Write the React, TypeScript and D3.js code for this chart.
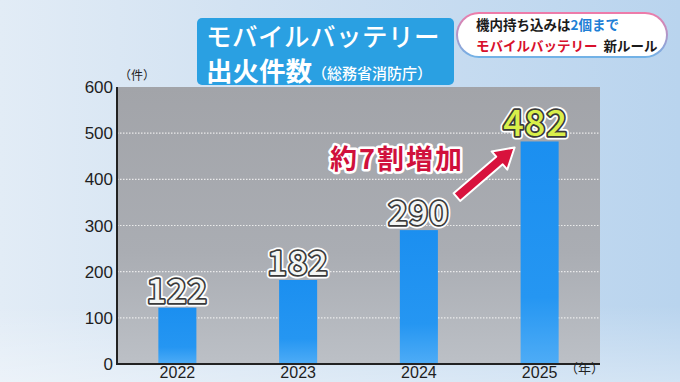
import React from "react";
import * as d3 from "d3";

const years = ["2022", "2023", "2024", "2025"];
const counts = [122, 182, 290, 482];
const yTicks = [0, 100, 200, 300, 400, 500, 600];
const gridTicks = [100, 200, 300, 400, 500];

const W = 680;
const H = 382;
const plot = { left: 117, right: 600, top: 87, bottom: 364 };

export default function App() {
  const x = d3.scaleBand<string>().domain(years).range([plot.left, plot.right]).padding(0);
  const y = d3.scaleLinear().domain([0, 600]).range([plot.bottom, plot.top]);
  const barW = x.bandwidth() * 0.315;
  const cx = (yr: string) => (x(yr) as number) + x.bandwidth() / 2;

  // arrow annotation geometry (relative to 2024/2025 bars)
  const ax0 = cx("2024") + 38, ay0 = y(290) - 33;
  const ax1 = cx("2025") - 25, ay1 = y(482) + 6;
  const ang = Math.atan2(ay1 - ay0, ax1 - ax0);
  const len = Math.hypot(ax1 - ax0, ay1 - ay0);
  const shaft = 5, headW = 12, headL = 20;
  const pts: [number, number][] = [
    [0, -shaft], [len - headL, -shaft], [len - headL, -headW], [len, 0],
    [len - headL, headW], [len - headL, shaft], [0, shaft],
  ];
  const arrowPts = pts
    .map(([u, v]) => [ax0 + u * Math.cos(ang) - v * Math.sin(ang), ay0 + u * Math.sin(ang) + v * Math.cos(ang)])
    .map((p) => p.join(","))
    .join(" ");

  const jp = "'Noto Sans CJK JP', 'Noto Sans', sans-serif";
  const num = "'Noto Sans CJK JP', 'Noto Sans', sans-serif";
  const tickFont = "'Liberation Sans', Arial, sans-serif";

  return (
    <svg width={W} height={H} style={{ display: "block", position: "absolute", left: 0, top: 0 }}>
      <defs>
        <linearGradient id="bg" x1="0" y1="0" x2="1" y2="0">
          <stop offset="0" stopColor="#e2ecf6" />
          <stop offset="0.35" stopColor="#d2e2f2" />
          <stop offset="1" stopColor="#b9d4ee" />
        </linearGradient>
        <linearGradient id="bgv" x1="0" y1="0" x2="0" y2="1">
          <stop offset="0" stopColor="#ffffff" stopOpacity="0" />
          <stop offset="0.8" stopColor="#ffffff" stopOpacity="0" />
          <stop offset="1" stopColor="#ffffff" stopOpacity="0.35" />
        </linearGradient>
        <linearGradient id="plotbg" x1="0" y1="0" x2="0" y2="1">
          <stop offset="0" stopColor="#a2a4a9" />
          <stop offset="0.6" stopColor="#aaadb3" />
          <stop offset="1" stopColor="#bcc0c6" />
        </linearGradient>
        <linearGradient id="bar" x1="0" y1="0" x2="0" y2="1">
          <stop offset="0" stopColor="#1b8ff0" />
          <stop offset="0.7" stopColor="#2596f2" />
          <stop offset="1" stopColor="#4eacf6" />
        </linearGradient>
        <linearGradient id="pillBorder" x1="0" y1="0" x2="0" y2="1">
          <stop offset="0" stopColor="#f07aa8" />
          <stop offset="1" stopColor="#6fb3e8" />
        </linearGradient>
      </defs>

      <rect x={0} y={0} width={W} height={H} fill="url(#bg)" />
      <rect x={0} y={0} width={W} height={H} fill="url(#bgv)" />

      {/* plot area */}
      <rect x={plot.left} y={plot.top} width={plot.right - plot.left} height={plot.bottom - plot.top} fill="url(#plotbg)" />

      {/* grid */}
      {gridTicks.map((t) => (
        <line key={t} x1={plot.left} x2={plot.right} y1={y(t)} y2={y(t)} stroke="#f2f2f2" strokeWidth={1.2} strokeDasharray="1.5 1.5" opacity={0.9} />
      ))}

      {/* bars */}
      {years.map((yr, i) => (
        <rect key={yr} x={cx(yr) - barW / 2} y={y(counts[i])} width={barW} height={plot.bottom - y(counts[i])} fill="url(#bar)" />
      ))}

      {/* axes */}
      <line x1={plot.left} x2={plot.left} y1={plot.top} y2={plot.bottom} stroke="#222" strokeWidth={2} />
      <line x1={plot.left - 1} x2={plot.right} y1={plot.bottom} y2={plot.bottom} stroke="#222" strokeWidth={2} />

      {/* y ticks */}
      {yTicks.map((t) => (
        <text key={t} x={plot.left - 4} y={y(t) + 6} textAnchor="end" fontFamily={tickFont} fontSize={17} fill="#1e1e1e">
          {t}
        </text>
      ))}
      <text x={119} y={80} fontFamily={jp} fontSize={12} fill="#222">（件）</text>

      {/* x labels */}
      {years.map((yr) => (
        <text key={yr} x={cx(yr)} y={378} textAnchor="middle" fontFamily={tickFont} fontSize={16} fill="#1e1e1e">
          {yr}
        </text>
      ))}
      <text x={565} y={373} fontFamily={jp} fontSize={13} fill="#222">（年）</text>

      {/* value labels */}
      {years.map((yr, i) => {
        const last = i === years.length - 1;
        const ty = y(counts[i]) - 5;
        const fs = last ? 36 : 34;
        const common = {
          x: cx(yr) - (last ? 4 : 0),
          y: ty,
          textAnchor: "middle" as const,
          fontFamily: num,
          fontWeight: 500,
          fontSize: fs,
          letterSpacing: 1,
        };
        return (
          <g key={yr}>
            <text {...common} fill="none" stroke="#ffffff" strokeWidth={7} strokeLinejoin="round">{counts[i]}</text>
            <text {...common} fill="none" stroke="#3a3a3a" strokeWidth={3.5} strokeLinejoin="round">{counts[i]}</text>
            <text {...common} fill={last ? "#d9ef4a" : "#f4f6f4"}>{counts[i]}</text>
          </g>
        );
      })}

      {/* annotation */}
      <polygon points={arrowPts} fill="#d8123d" stroke="#ffffff" strokeWidth={2} strokeLinejoin="round" />
      {[0, 1].map((k) => (
        <text key={k} x={397} y={169} textAnchor="middle" fontFamily={jp} fontWeight={700} fontSize={27} letterSpacing={2}
          fill={k ? "#d0103c" : "none"} stroke={k ? "none" : "#ffffff"} strokeWidth={k ? 0 : 5} strokeLinejoin="round">
          約7割増加
        </text>
      ))}

      {/* title box */}
      <rect x={197} y={18} width={257} height={67} rx={5} fill="#2aa0e2" />
      <text x={206} y={46} fontFamily={jp} fontWeight={500} fontSize={25.5} fill="#ffffff" letterSpacing={0.5}>
        モバイルバッテリー
      </text>
      <text x={206} y={81} fontFamily={jp} fontWeight={700} fontSize={26.5} fill="#ffffff">
        出火件数<tspan fontSize={15} fontWeight={500} dy={-2}>（総務省消防庁）</tspan>
      </text>

      {/* top-right pill */}
      <rect x={456} y={12} width={212} height={46} rx={23} fill="url(#pillBorder)" />
      <rect x={458} y={14} width={208} height={42} rx={21} fill="#ffffff" />
      <text x={476} y={30} fontFamily={jp} fontWeight={700} fontSize={13.5} fill="#1a1a1a">
        機内持ち込みは<tspan fill="#1f7fd6">2個まで</tspan>
      </text>
      <text x={476} y={51} fontFamily={jp} fontWeight={700} fontSize={13.5} fill="#d8102c">
        モバイルバッテリー<tspan fill="#1a1a1a" dx={6}>新ルール</tspan>
      </text>
    </svg>
  );
}
